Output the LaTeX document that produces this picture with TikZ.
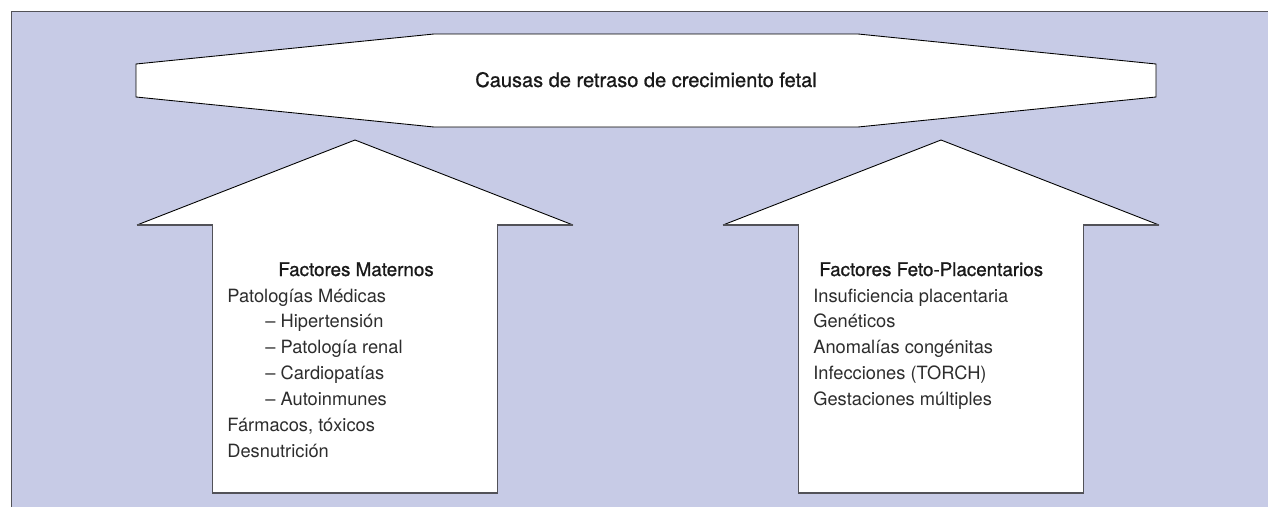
\documentclass[tikz,border=0pt]{standalone}
\usepackage{fontspec}
\setmainfont{TeX Gyre Heros}
\newfontfamily\medio[FakeBold=0.9]{TeX Gyre Heros}
\definecolor{fondo}{RGB}{199,203,230}
\definecolor{borde}{RGB}{82,82,88}
\definecolor{texto}{RGB}{45,45,45}

\begin{document}
\begin{tikzpicture}[x=0.02cm,y=-0.02cm,line join=miter,
    titulo/.style={anchor=base,inner sep=0,font=\medio\fontsize{11.4}{13}\selectfont,text=black!90},
    cabeza/.style={anchor=base west,inner sep=0,font=\medio\fontsize{10.7}{13}\selectfont,text=black!90},
    linea/.style={anchor=base west,inner sep=0,font=\fontsize{10.4}{12}\selectfont,text=texto}]
  \useasboundingbox (0,0) rectangle (1268,507);
  \fill[fondo] (11.5,11.5) rectangle (1268,507);
  \draw[borde,line width=0.8pt] (1268,11.5) -- (11.5,11.5) -- (11.5,507);
  % banner
  \filldraw[fill=white,line width=0.5pt] (136,64) -- (434,34) -- (858,34) -- (1156,64)
    -- (1156,97) -- (858,127) -- (434,127) -- (136,97) -- cycle;
  \node[titulo] (causas) at (646,87) {Causas de retraso de crecimiento fetal};
  % flecha izquierda
  \fill[white] (355,140) -- (573,225) -- (497.5,225) -- (497.5,493) -- (212.5,493) -- (212.5,225) -- (137,225) -- cycle;
  \draw[line width=0.5pt] (137,225) -- (355,140) -- (573,225);
  \draw[borde,line width=0.8pt] (573,225) -- (497.5,225) -- (497.5,493) -- (212.5,493) -- (212.5,225) -- (137,225);
  % flecha derecha
  \fill[white] (941,140) -- (1159,225) -- (1083.5,225) -- (1083.5,493) -- (798.5,493) -- (798.5,225) -- (723,225) -- cycle;
  \draw[line width=0.5pt] (723,225) -- (941,140) -- (1159,225);
  \draw[borde,line width=0.8pt] (1159,225) -- (1083.5,225) -- (1083.5,493) -- (798.5,493) -- (798.5,225) -- (723,225);
  % factores maternos
  \node[cabeza] (maternos) at (278,276) {Factores Maternos};
  \node[linea] (m1) at (227,302) {Patologías Médicas};
  \node[linea] (m2) at (265,327.9) {– Hipertensión};
  \node[linea] (m3) at (265,353.8) {– Patología renal};
  \node[linea] (m4) at (265,379.7) {– Cardiopatías};
  \node[linea] (m5) at (265,405.6) {– Autoinmunes};
  \node[linea] (m6) at (227,431.5) {Fármacos, tóxicos};
  \node[linea] (m7) at (227,457.4) {Desnutrición};
  % factores feto-placentarios
  \node[cabeza] (fetoplac) at (819,276) {Factores Feto-Placentarios};
  \node[linea] (f1) at (813,302) {Insuficiencia placentaria};
  \node[linea] (f2) at (813,327.9) {Genéticos};
  \node[linea] (f3) at (813,353.8) {Anomalías congénitas};
  \node[linea] (f4) at (813,379.7) {Infecciones (TORCH)};
  \node[linea] (f5) at (813,405.6) {Gestaciones múltiples};
\end{tikzpicture}
\end{document}
